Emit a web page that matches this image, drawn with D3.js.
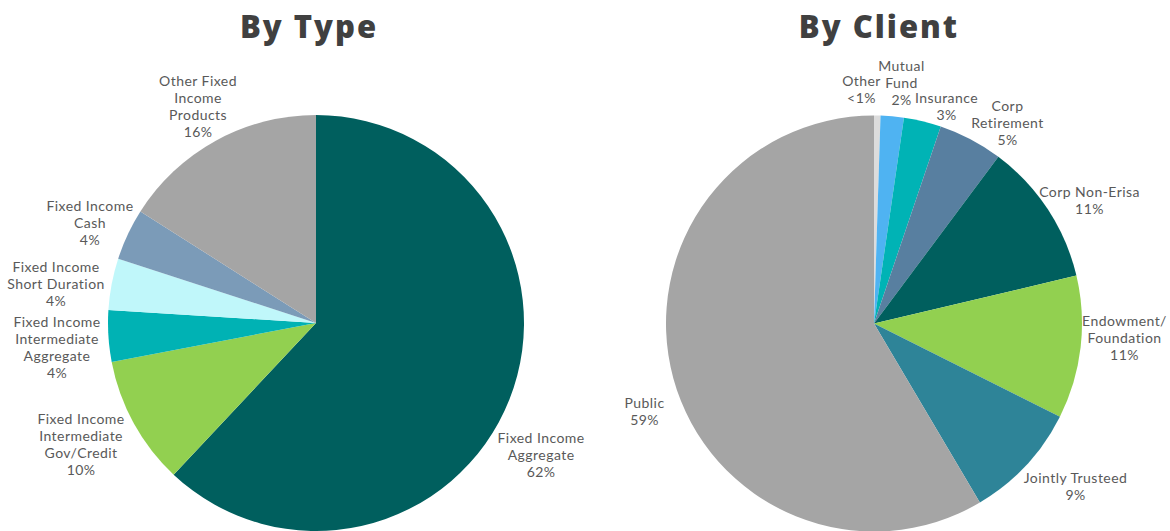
<!DOCTYPE html>
<html>
<head>
<meta charset="utf-8">
<script src="https://cdn.jsdelivr.net/npm/d3@7"></script>
<style>
  html, body { margin: 0; padding: 0; background: #fff; }
  svg { display: block; }
</style>
</head>
<body>
<svg id="chart" width="1170" height="531"></svg>
<script>
// ---- Data ----
const typeTitle = "By Type";
const typeLabels = [
  ["Fixed Income", "Aggregate"],
  ["Fixed Income", "Intermediate", "Gov/Credit"],
  ["Fixed Income", "Intermediate", "Aggregate"],
  ["Fixed Income", "Short Duration"],
  ["Fixed Income", "Cash"],
  ["Other Fixed", "Income", "Products"]
];
const typeValues = [62, 10, 4, 4, 4, 16];
const typePct = ["62%", "10%", "4%", "4%", "4%", "16%"];
const typeColors = ["#005f5e", "#92d050", "#00b2b4", "#c0f7fa", "#7b9bb8", "#a5a5a5"];

const clientTitle = "By Client";
const clientLabels = [
  ["Other"],
  ["Mutual", "Fund"],
  ["Insurance"],
  ["Corp", "Retirement"],
  ["Corp Non-Erisa"],
  ["Endowment/", "Foundation"],
  ["Jointly Trusteed"],
  ["Public"]
];
const clientValues = [0.5, 1.8, 2.9, 5, 11.1, 11.1, 9.1, 58.5];
const clientPct = ["<1%", "2%", "3%", "5%", "11%", "11%", "9%", "59%"];
const clientColors = ["#dcdcdc", "#4fb3f2", "#00b3b5", "#587fa0", "#005f5e", "#92d050", "#2e8498", "#a5a5a5"];

// ---- Layout (not data) ----
const typeNudge = [[-12, 38], [-11.5, -1.4], [-4.5, 8.5], [-9.5, 9.3], [4.7, 8.6], [4.9, 7]];
const clientNudge = [[-16.5, 21.5], [5.1, 14], [13, 31], [14.9, 25.8], [2.4, 17], [-2.8, -14.6], [15.1, -11], [16.5, 20.7]];

const svg = d3.select("#chart");
const R = 208;
const labelR = 255;
const lineH = 17;

function drawPie(cx, cy, title, titleX, labels, values, pcts, colors, nudges) {
  svg.append("text")
    .attr("x", titleX).attr("y", 38)
    .attr("text-anchor", "middle")
    .attr("font-family", "'Open Sans', sans-serif")
    .attr("font-weight", 800)
    .attr("font-size", 31)
    .attr("letter-spacing", 2)
    .attr("fill", "#404040")
    .text(title);

  const g = svg.append("g").attr("transform", `translate(${cx},${cy})`);
  const pie = d3.pie().sort(null).value(d => d)(values);
  const arc = d3.arc().innerRadius(0).outerRadius(R);
  const labelArc = d3.arc().innerRadius(labelR).outerRadius(labelR);

  g.selectAll("path").data(pie).join("path")
    .attr("d", arc)
    .attr("fill", (d, i) => colors[i]);

  pie.forEach((d, i) => {
    const [x, y] = labelArc.centroid(d);
    const lines = labels[i].concat([pcts[i]]);
    const px = x + nudges[i][0];
    const py = y + nudges[i][1];
    const t = g.append("text")
      .attr("text-anchor", "middle")
      .attr("font-family", "Lato, 'Open Sans', sans-serif")
      .attr("font-size", 14)
      .attr("letter-spacing", 0.45)
      .attr("fill", "#595959");
    const top = py - (lines.length - 1) * lineH / 2;
    lines.forEach((ln, k) => {
      t.append("tspan")
        .attr("x", px)
        .attr("y", top + k * lineH)
        .attr("dy", "0.35em")
        .text(ln);
    });
  });
}

drawPie(316, 323, typeTitle, 309, typeLabels, typeValues, typePct, typeColors, typeNudge);
drawPie(874, 323.5, clientTitle, 879, clientLabels, clientValues, clientPct, clientColors, clientNudge);
</script>
</body>
</html>
